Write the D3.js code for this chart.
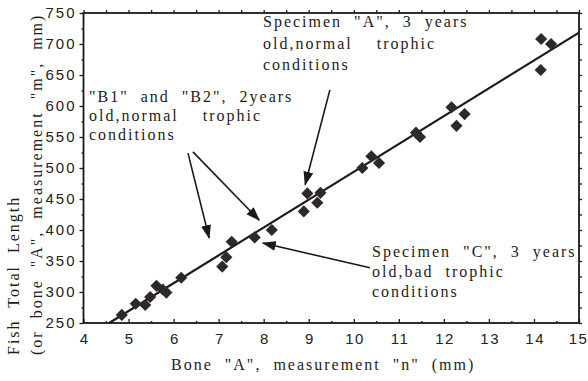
<!DOCTYPE html>
<html>
<head>
<meta charset="utf-8">
<script src="https://cdn.jsdelivr.net/npm/d3@7/dist/d3.min.js"></script>
<style>
  html, body { margin: 0; padding: 0; background: #fff; }
  svg { display: block; }
  .serif { font-family: "Liberation Serif", "DejaVu Serif", serif; fill: #1e1c1b; }
  .tick-label { font-family: "Liberation Sans", Arial, sans-serif; fill: #222; }
</style>
</head>
<body>
<svg id="chart" width="588" height="381"></svg>
<script>
// Bone "A" length (mm) against fish total length (mm)
const boneLength = [4.85, 5.16, 5.37, 5.48, 5.62, 5.76, 5.84, 6.17, 7.08, 7.17, 7.29, 7.8, 8.18,
                    8.89, 8.97, 9.19, 9.26, 10.19, 10.39, 10.56, 11.38, 11.47,
                    12.17, 12.28, 12.46, 14.15, 14.16, 14.38];
const fishLength = [263, 281, 279, 292, 310, 304, 299, 323, 341, 356, 381, 388, 400,
                    430, 459, 444, 460, 500, 519, 508, 557, 550,
                    598, 568, 587, 658, 708, 700];

// Regression line  L = slope * n + intercept
const fitSlope = 44.9;
const fitIntercept = 44.8;

const xTicks = [4, 5, 6, 7, 8, 9, 10, 11, 12, 13, 14, 15];
const yTicks = [250, 300, 350, 400, 450, 500, 550, 600, 650, 700, 750];

const annotations = [
  { lines: ['Specimen "A", 3 years', 'old,normal\u00a0\u00a0trophic', 'conditions'],
    x: 263, y: 27, step: 21.5 },
  { lines: ['"B1" and "B2", 2years', 'old,normal\u00a0\u00a0trophic', 'conditions'],
    x: 89, y: 102, step: 19 },
  { lines: ['Specimen "C", 3 years', 'old,bad trophic', 'conditions'],
    x: 372, y: 257, step: 20 }
];

// Arrows from a label to the points it describes, in data units
const arrows = [
  { from: [9.47, 626], to: [8.92, 473] },
  { from: [6.32, 524], to: [6.79, 387] },
  { from: [6.43, 526], to: [7.9, 416] },
  { from: [10.36, 339], to: [7.98, 379] }
];

const svg = d3.select("#chart");
const x = d3.scaleLinear().domain([4, 15]).range([83.5, 579]);
const y = d3.scaleLinear().domain([250, 750]).range([323, 13]);
const ink = "#1c1a19";

// frame
svg.append("rect")
  .attr("x", x(4)).attr("y", y(750))
  .attr("width", x(15) - x(4)).attr("height", y(250) - y(750))
  .attr("fill", "none").attr("stroke", ink).attr("stroke-width", 1.8);

// axes
const gBottom = svg.append("g").attr("transform", `translate(0,${y(250)})`)
  .call(d3.axisBottom(x).tickValues(xTicks).tickSize(-4).tickSizeOuter(0).tickPadding(10)
        .tickFormat(d3.format("d")));
const gBottomMinor = svg.append("g").attr("transform", `translate(0,${y(250)})`)
  .call(d3.axisBottom(x).tickValues(d3.range(4.5, 15, 1)).tickSize(-2).tickSizeOuter(0).tickFormat(""));
const gTop = svg.append("g").attr("transform", `translate(0,${y(750)})`)
  .call(d3.axisTop(x).tickValues(d3.range(4, 15.01, 0.5)).tickSize(3).tickSizeOuter(0).tickFormat(""));
const gLeft = svg.append("g").attr("transform", `translate(${x(4)},0)`)
  .call(d3.axisLeft(y).tickValues(yTicks).tickSize(4).tickSizeOuter(0).tickPadding(3)
        .tickFormat(d3.format("d")));
const gLeftMinor = svg.append("g").attr("transform", `translate(${x(4)},0)`)
  .call(d3.axisLeft(y).tickValues(d3.range(275, 750, 50)).tickSize(2).tickSizeOuter(0).tickFormat(""));
const gRight = svg.append("g").attr("transform", `translate(${x(15)},0)`)
  .call(d3.axisRight(y).tickValues(d3.range(250, 750.1, 25)).tickSize(3).tickSizeOuter(0).tickFormat(""));

[gBottom, gBottomMinor, gTop, gLeft, gLeftMinor, gRight].forEach(g => {
  g.select(".domain").remove();
  g.selectAll(".tick line").attr("stroke", ink).attr("stroke-width", 1.3);
  g.selectAll(".tick text")
    .attr("class", "tick-label")
    .style("font-size", "15px");
});
gLeft.selectAll(".tick text").style("letter-spacing", "2px");
gBottom.selectAll(".tick text").style("letter-spacing", "1.5px").attr("dx", "0.75px");
gBottom.selectAll(".tick:last-of-type text").attr("dx", "-1px");

// regression line
const n0 = (250 - fitIntercept) / fitSlope;
svg.append("line")
  .attr("x1", x(n0)).attr("y1", y(250))
  .attr("x2", x(15)).attr("y2", y(fitSlope * 15 + fitIntercept))
  .attr("stroke", ink).attr("stroke-width", 2.2);

// diamond markers
const diamond = d3.symbol().type(d3.symbolSquare).size(74);
svg.append("g").selectAll("path")
  .data(boneLength.map((n, i) => [n, fishLength[i]]))
  .join("path")
  .attr("d", diamond)
  .attr("transform", d => `translate(${x(d[0])},${y(d[1])}) rotate(45)`)
  .attr("fill", "#2e2826");

// annotation text
const textStyle = sel => sel
  .attr("class", "serif")
  .style("font-size", "16px")
  .style("letter-spacing", "2px")
  .style("word-spacing", "6px");

annotations.forEach(a => {
  const t = svg.append("text").call(textStyle)
    .attr("x", a.x).attr("y", a.y);
  a.lines.forEach((line, i) => {
    t.append("tspan").attr("x", a.x).attr("dy", i === 0 ? 0 : a.step).text(line);
  });
});

// arrows
const defs = svg.append("defs");
defs.append("marker")
  .attr("id", "head")
  .attr("viewBox", "0 0 14 10")
  .attr("refX", 13).attr("refY", 5)
  .attr("markerWidth", 14).attr("markerHeight", 10)
  .attr("markerUnits", "userSpaceOnUse")
  .attr("orient", "auto")
  .append("path").attr("d", "M0,0 L14,5 L0,10 Z").attr("fill", ink);

svg.append("g").selectAll("line")
  .data(arrows)
  .join("line")
  .attr("x1", d => x(d.from[0])).attr("y1", d => y(d.from[1]))
  .attr("x2", d => x(d.to[0])).attr("y2", d => y(d.to[1]))
  .attr("stroke", ink).attr("stroke-width", 1.6)
  .attr("marker-end", "url(#head)");

// axis titles
svg.append("text").call(textStyle)
  .attr("x", 171).attr("y", 370)
  .text('Bone "A", measurement "n" (mm)');

const yTitle = svg.append("g").attr("transform", "translate(19,355) rotate(-90)");
yTitle.append("text").call(textStyle).attr("x", 0).attr("y", 0).text("Fish Total Length");
yTitle.append("text").call(textStyle).attr("x", 0).attr("y", 23)
  .text('(or bone "A", measurement "m", mm)');
</script>
</body>
</html>
